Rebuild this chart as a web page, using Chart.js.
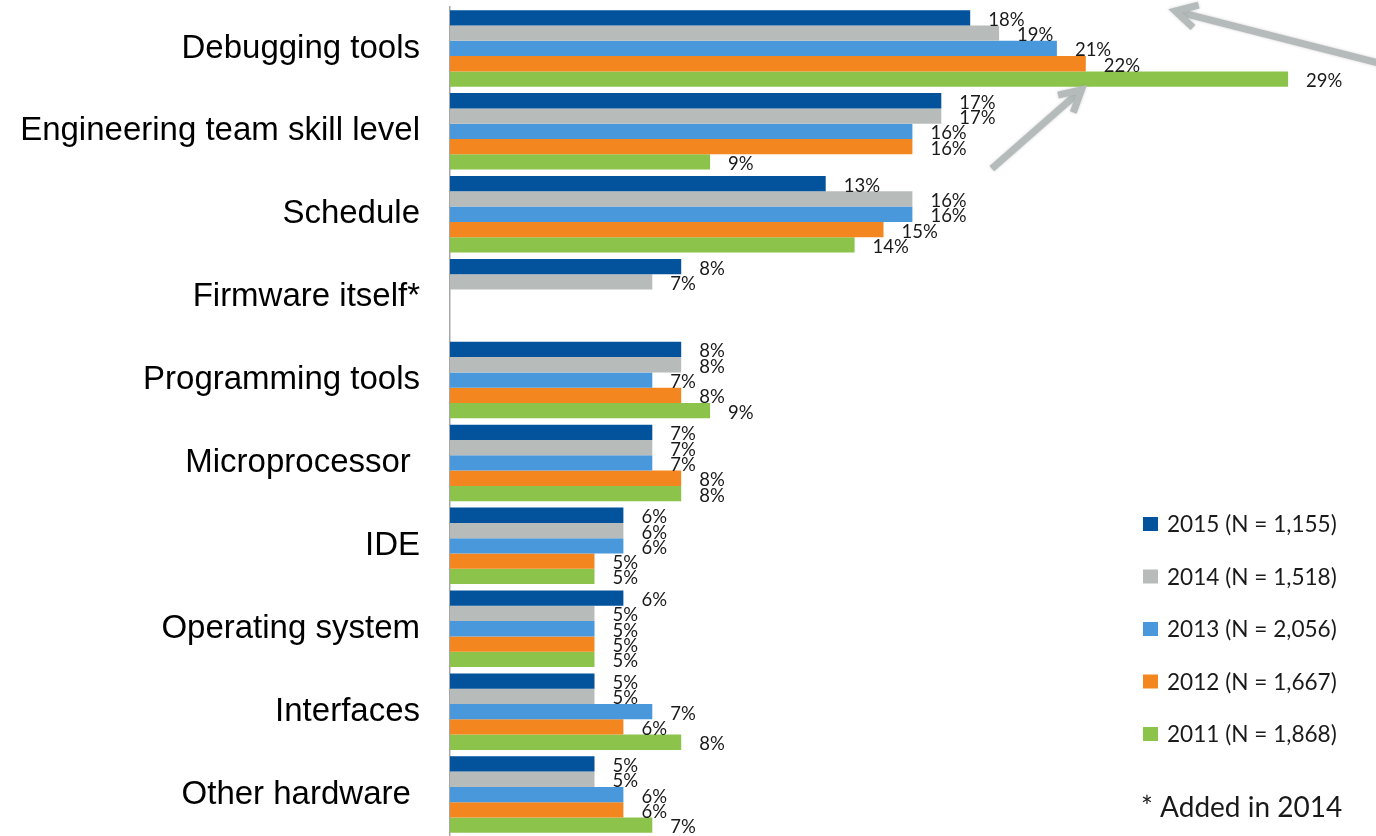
<!DOCTYPE html>
<html>
<head>
<meta charset="utf-8">
<title>Biggest design challenges</title>
<script src="https://cdn.jsdelivr.net/npm/chart.js@4.4.1/dist/chart.umd.min.js"></script>
<style>
  html, body { margin: 0; padding: 0; background: #fff; }
  #wrap { width: 1376px; height: 836px; position: relative; }
</style>
</head>
<body>
<div id="wrap"><canvas id="challengeChart"></canvas></div>
<script>
// categories (trailing spaces kept on purpose, they nudge those labels left)
const categories = [
  'Debugging tools', 'Engineering team skill level', 'Schedule', 'Firmware itself*',
  'Programming tools', 'Microprocessor ', 'IDE', 'Operating system', 'Interfaces', 'Other hardware '
];

const seriesNames = ['2015 (N = 1,155)', '2014 (N = 1,518)', '2013 (N = 2,056)', '2012 (N = 1,667)', '2011 (N = 1,868)'];
const seriesColors = ['#02529c', '#b7bcbb', '#4a98dc', '#f4861f', '#8cc44b'];

// percent of respondents, firmware question only asked from 2014 on
const values2015 = [18, 17, 13, 8, 8, 7, 6, 6, 5, 5];
const values2014 = [19, 17, 16, 7, 8, 7, 6, 5, 5, 5];
const values2013 = [21, 16, 16, null, 7, 7, 6, 5, 7, 6];
const values2012 = [22, 16, 15, null, 8, 8, 5, 5, 6, 6];
const values2011 = [29, 9, 14, null, 9, 8, 5, 5, 8, 7];

const footnote = '* Added in 2014';

const allValues = [values2015, values2014, values2013, values2012, values2011];

// value labels just past the end of each bar
const valueLabels = {
  id: 'valueLabels',
  afterDatasetsDraw(chart) {
    const ctx = chart.ctx;
    ctx.save();
    ctx.font = '18.5px Lato';
    ctx.fillStyle = '#1a1a1a';
    ctx.textAlign = 'left';
    ctx.textBaseline = 'middle';
    chart.data.datasets.forEach((ds, i) => {
      const meta = chart.getDatasetMeta(i);
      meta.data.forEach((bar, j) => {
        const v = ds.data[j];
        if (v === null || v === undefined) return;
        ctx.fillText(Math.round(v) + '%', bar.x + 18, bar.y + 2);
      });
    });
    ctx.restore();
  }
};

// legend block on the lower right plus the footnote
const sideLegend = {
  id: 'sideLegend',
  afterDraw(chart) {
    const ctx = chart.ctx;
    ctx.save();
    ctx.textAlign = 'left';
    ctx.textBaseline = 'middle';
    ctx.font = '22.6px Lato';
    chart.data.datasets.forEach((ds, i) => {
      const cy = 524 + i * 52.5;
      ctx.fillStyle = ds.backgroundColor;
      ctx.fillRect(1143, cy - 7, 15, 14);
      ctx.fillStyle = '#1a1a1a';
      ctx.fillText(ds.label, 1167, cy + 1);
    });
    ctx.font = '28px Lato';
    ctx.fillText(footnote, 1141, 808);
    ctx.restore();
  }
};

function drawArrow(ctx, x1, y1, x2, y2) {
  const ang = Math.atan2(y2 - y1, x2 - x1);
  const head = 24, spread = 0.5;
  ctx.beginPath();
  ctx.moveTo(x1, y1);
  ctx.lineTo(x2 - Math.cos(ang) * 4, y2 - Math.sin(ang) * 4);
  ctx.stroke();
  ctx.beginPath();
  ctx.moveTo(x2 - head * Math.cos(ang - spread), y2 - head * Math.sin(ang - spread));
  ctx.lineTo(x2, y2);
  ctx.lineTo(x2 - head * Math.cos(ang + spread), y2 - head * Math.sin(ang + spread));
  ctx.stroke();
}

// two grey callout arrows, placed in axis units
const callouts = {
  id: 'callouts',
  afterDraw(chart) {
    const xs = chart.scales.x, ys = chart.scales.y;
    const px = v => xs.getPixelForValue(v);
    const step = ys.getPixelForValue(1) - ys.getPixelForValue(0);
    const py = i => ys.getPixelForValue(0) + i * step;
    const ctx = chart.ctx;
    ctx.save();
    ctx.strokeStyle = '#b5bbbb';
    ctx.lineWidth = 7;
    ctx.lineCap = 'butt';
    ctx.lineJoin = 'miter';
    ctx.shadowColor = 'rgba(120,120,120,0.35)';
    ctx.shadowBlur = 3;
    drawArrow(ctx, px(32.3), py(0.19), px(25.1), py(-0.45));
    drawArrow(ctx, px(18.75), py(1.45), px(21.85), py(0.5));
    ctx.restore();
  }
};

const ctx = document.getElementById('challengeChart').getContext('2d');
const challengeChart = new Chart(ctx, {
  type: 'bar',
  data: {
    labels: categories,
    datasets: allValues.map((vals, i) => ({
      label: seriesNames[i],
      data: vals,
      backgroundColor: seriesColors[i],
      borderWidth: 0,
      categoryPercentage: 0.923,
      barPercentage: 1.0
    }))
  },
  options: {
    indexAxis: 'y',
    responsive: true,
    maintainAspectRatio: false,
    animation: false,
    devicePixelRatio: 1,
    layout: {
      padding: { top: 7, right: 59, bottom: 0, left: 0 }
    },
    plugins: {
      legend: { display: false },
      tooltip: { enabled: false }
    },
    scales: {
      x: {
        display: false,
        min: 0,
        max: 30
      },
      y: {
        grid: { display: false, drawTicks: false },
        border: { display: true, color: '#a6a6a6', width: 1.5 },
        ticks: {
          color: '#000',
          padding: 30,
          font: { family: '"Liberation Sans", Arial, sans-serif', size: 33 }
        },
        afterFit: function(scale) {
          // fixed label column, and no extra room above/below for tick text
          scale.width = 450;
          scale.paddingTop = 0;
          scale.paddingBottom = 0;
        }
      }
    }
  },
  plugins: [valueLabels, sideLegend, callouts]
});
</script>
</body>
</html>
